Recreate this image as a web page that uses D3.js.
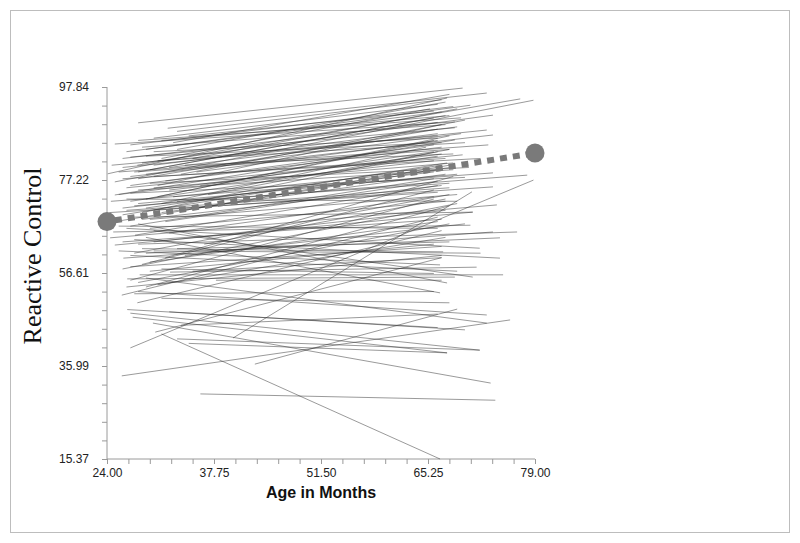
<!DOCTYPE html>
<meta charset="utf-8">
<style>
body { margin: 0; background: white; }
svg { font-family: "Liberation Sans", Arial, sans-serif; }
.axis path, .axis line { stroke: #9a9a9a; stroke-width: 1px; }
.axis text { fill: #222; font-size: 12px; }
</style>
<body>
<script src="https://d3js.org/d3.v7.min.js"></script>
<script>

// individual trajectories: [start age, start score, end age, end score]
var upperLines = [
  [28.0, 89.9, 69.7, 97.6], [31.8, 88.7, 72.8, 96.5], [25.0, 85.2, 68.7, 90.1],
  [27.0, 82.3, 68.7, 88.8], [24.1, 78.6, 67.7, 95.4], [27.9, 80.5, 77.1, 95.2],
  [25.0, 76.8, 78.8, 94.9], [29.0, 84.0, 70.7, 93.8], [26.5, 83.5, 67.0, 92.3],
  [30.0, 86.5, 66.5, 94.0], [32.5, 85.5, 68.0, 96.2], [28.5, 81.0, 73.6, 91.6],
  [26.0, 80.0, 72.8, 88.3], [27.0, 78.0, 73.6, 87.2], [29.5, 79.5, 66.0, 91.0],
  [31.0, 82.0, 65.5, 93.0], [25.5, 79.0, 73.0, 85.0], [27.0, 74.3, 70.0, 77.8],
  [25.0, 73.9, 68.7, 86.1], [28.0, 77.5, 66.5, 88.5], [30.5, 76.0, 67.0, 89.5],
  [26.5, 75.5, 69.7, 82.8], [29.0, 73.0, 66.0, 86.0], [24.5, 72.5, 73.6, 78.8],
  [27.5, 71.5, 78.0, 78.3], [28.5, 70.0, 66.5, 83.5], [26.0, 69.5, 67.7, 81.0],
  [31.0, 72.0, 65.0, 84.5], [30.0, 70.5, 73.6, 75.7], [25.0, 68.0, 68.0, 80.0],
  [27.0, 67.0, 66.0, 77.5], [29.5, 68.5, 69.0, 74.0], [33.0, 84.0, 67.5, 94.5],
  [34.5, 87.0, 66.0, 92.5], [29.0, 82.5, 67.0, 85.5], [27.5, 79.0, 68.0, 84.0],
  [30.0, 80.5, 69.0, 89.0], [32.0, 80.0, 66.5, 87.5], [26.0, 77.5, 67.5, 82.0],
  [28.0, 75.0, 68.5, 79.5], [31.5, 77.0, 67.0, 84.5], [27.0, 72.5, 66.5, 82.5],
  [29.0, 71.0, 67.0, 80.5], [33.5, 78.5, 70.0, 90.5], [35.0, 82.0, 69.0, 93.0],
  [30.5, 73.5, 68.0, 87.0], [26.0, 71.0, 66.0, 79.0], [28.5, 68.5, 67.0, 76.0],
  [24.3, 70.0, 66.5, 74.5], [32.0, 75.0, 66.0, 81.5], [29.5, 76.5, 70.5, 80.0],
  [26.5, 73.0, 69.0, 72.5], [28.0, 86.0, 69.5, 91.0], [30.0, 83.5, 66.5, 86.5],
  [34.0, 80.5, 68.5, 83.0], [27.5, 69.0, 71.0, 70.1], [31.0, 70.0, 67.5, 78.5],
  [33.0, 72.5, 68.0, 76.5], [36.0, 76.0, 66.0, 83.5], [30.0, 78.0, 72.0, 82.0],
  [26.0, 82.0, 66.5, 90.0], [28.5, 84.5, 67.5, 89.5], [31.0, 86.0, 68.0, 91.5],
  [27.0, 76.0, 66.0, 85.0], [29.0, 78.5, 69.5, 87.5], [25.5, 74.0, 67.0, 83.0],
  [30.0, 75.5, 68.5, 81.0], [28.0, 72.0, 69.0, 78.5], [32.5, 73.5, 67.0, 79.5],
  [26.5, 70.5, 68.0, 75.5], [29.5, 66.5, 67.5, 72.5], [31.5, 68.0, 66.5, 77.0],
  [34.0, 70.5, 68.0, 80.5], [27.0, 85.0, 68.5, 93.5], [33.0, 88.0, 67.0, 95.0],
  [30.5, 81.5, 70.0, 85.5], [24.6, 80.5, 66.5, 87.0], [28.0, 79.0, 67.5, 91.5],
  [35.5, 79.0, 66.5, 86.0], [37.0, 74.0, 68.0, 84.0]
];

var middleLines = [
  [24.4, 64.4, 74.1, 71.7], [25.0, 62.8, 71.0, 70.1], [24.8, 65.7, 70.7, 67.2],
  [27.6, 65.0, 66.5, 76.0], [26.1, 59.9, 73.6, 65.7], [28.0, 63.0, 76.7, 65.7],
  [29.0, 61.0, 74.5, 64.4], [26.5, 66.5, 71.9, 62.1], [27.5, 64.0, 74.5, 59.9],
  [28.5, 62.0, 67.2, 61.3], [25.5, 61.5, 66.8, 58.4], [32.1, 56.8, 71.5, 57.9],
  [28.2, 56.2, 74.9, 56.2], [26.6, 55.3, 68.7, 55.7], [25.9, 51.7, 66.5, 69.0],
  [27.9, 50.0, 67.0, 66.0], [29.0, 53.5, 68.0, 71.5], [27.0, 55.0, 66.0, 73.0],
  [30.5, 54.0, 67.5, 64.5], [26.0, 57.5, 69.0, 72.0], [28.5, 58.5, 66.0, 75.0],
  [31.5, 60.0, 68.5, 78.0], [27.0, 58.0, 67.0, 62.5], [29.5, 59.0, 66.5, 68.0],
  [30.0, 66.0, 71.0, 55.7], [26.0, 63.5, 67.0, 68.5], [27.5, 61.0, 68.0, 74.0],
  [30.0, 63.5, 67.5, 70.5], [32.0, 65.5, 66.0, 73.5], [28.0, 67.5, 67.7, 54.4],
  [29.0, 64.5, 66.8, 52.2], [33.0, 62.0, 68.0, 63.5], [25.5, 67.0, 66.5, 66.5],
  [35.0, 57.0, 67.0, 60.0], [31.0, 57.5, 66.0, 56.5], [27.0, 60.5, 69.0, 57.0],
  [34.0, 60.5, 70.0, 67.5], [36.5, 63.0, 67.5, 73.0], [30.0, 61.5, 72.0, 61.0],
  [26.5, 53.5, 67.0, 60.5], [28.0, 54.5, 68.0, 67.5], [38.0, 55.0, 67.0, 55.0],
  [29.5, 57.0, 66.0, 63.0]
];

var lowerLines = [
  [27.0, 47.7, 71.9, 39.5], [27.3, 46.8, 67.7, 38.9], [29.9, 45.5, 73.3, 32.2],
  [31.0, 43.1, 66.8, 15.37], [36.0, 29.8, 73.9, 28.4], [25.9, 33.8, 75.8, 46.2],
  [43.0, 36.4, 69.0, 48.6], [27.0, 40.0, 78.8, 77.2], [40.2, 42.2, 70.9, 74.6],
  [28.0, 52.5, 72.8, 47.3], [29.0, 55.5, 72.8, 45.5], [26.6, 48.5, 66.5, 44.5],
  [32.0, 48.0, 70.0, 44.0], [30.2, 43.5, 67.0, 60.0], [31.0, 51.0, 68.0, 50.0],
  [33.5, 45.0, 66.5, 47.5], [27.5, 52.0, 66.0, 52.5], [33.0, 42.0, 71.9, 39.5],
  [34.5, 41.0, 67.7, 38.9]
];

// group mean trajectory
var meanAges = [24.00, 79.00];
var meanScores = [68.0, 83.2];

// labelled ticks, 4 minor steps between each pair
var xTickLabels = ["24.00", "37.75", "51.50", "65.25", "79.00"];
var yTickLabels = ["15.37", "35.99", "56.61", "77.22", "97.84"];

var xTickValues = d3.range(21).map(function(i) { return 24 + i * 2.75; });
var yTickValues = d3.range(21).map(function(i) { return 15.37 + i * (97.84 - 15.37) / 20; });

var width = 800, height = 543;

var svg = d3.select("body").append("svg")
    .attr("width", width)
    .attr("height", height);

svg.append("rect")
    .attr("x", 10.5).attr("y", 10.5)
    .attr("width", 779).attr("height", 522)
    .attr("fill", "none")
    .attr("stroke", "#bdbdbd");

var x = d3.scaleLinear().domain([24, 79]).range([107, 535]);
var y = d3.scaleLinear().domain([15.37, 97.84]).range([459, 87]);

// axes
svg.append("g")
    .attr("class", "axis")
    .attr("transform", "translate(0,459)")
    .call(d3.axisBottom(x).tickValues(xTickValues).tickSize(5).tickPadding(4)
      .tickFormat(function(d, i) { return i % 5 === 0 ? xTickLabels[i / 5] : ""; }))
    .call(function(g) { g.select(".domain").attr("d", "M107,0H535"); });

svg.append("g")
    .attr("class", "axis")
    .attr("transform", "translate(107,0)")
    .call(d3.axisLeft(y).tickValues(yTickValues).tickSize(5).tickPadding(13)
      .tickFormat(function(d, i) { return i % 5 === 0 ? yTickLabels[i / 5] : ""; }))
    .call(function(g) { g.select(".domain").attr("d", "M0,87V459"); });

// spaghetti lines
var allLines = upperLines.concat(middleLines, lowerLines);
svg.append("g")
  .selectAll("line")
  .data(allLines)
  .enter().append("line")
    .attr("x1", function(d) { return x(d[0]); })
    .attr("y1", function(d) { return y(d[1]); })
    .attr("x2", function(d) { return x(d[2]); })
    .attr("y2", function(d) { return y(d[3]); })
    .attr("stroke", "#2a2a2a")
    .attr("stroke-opacity", 0.8)
    .attr("stroke-width", 0.6);

// mean line, dashed, with end dots
svg.append("line")
    .attr("x1", x(meanAges[0])).attr("y1", y(meanScores[0]))
    .attr("x2", x(meanAges[1])).attr("y2", y(meanScores[1]))
    .attr("stroke", "#7a7a7a")
    .attr("stroke-width", 6)
    .attr("stroke-dasharray", "7,6")
    .attr("stroke-dashoffset", -8);

svg.selectAll("circle.mean")
  .data(meanAges)
  .enter().append("circle")
    .attr("class", "mean")
    .attr("cx", function(d) { return x(d); })
    .attr("cy", function(d, i) { return y(meanScores[i]); })
    .attr("r", 9.5)
    .attr("fill", "#7a7a7a");

// titles
svg.append("text")
    .attr("x", 321).attr("y", 498)
    .attr("text-anchor", "middle")
    .style("font-size", "16px")
    .style("font-weight", "bold")
    .style("fill", "#111")
    .text("Age in Months");

svg.append("text")
    .attr("transform", "translate(41,256) rotate(-90)")
    .attr("text-anchor", "middle")
    .style("font-family", "'Liberation Serif', 'Times New Roman', serif")
    .style("font-size", "26px")
    .style("fill", "#111")
    .text("Reactive Control");

</script>
</body>
